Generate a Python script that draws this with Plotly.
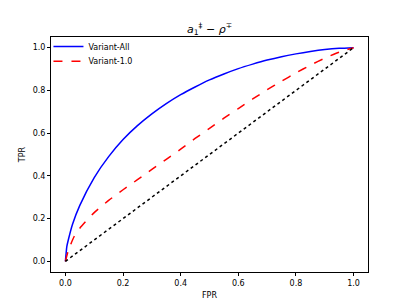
import plotly.graph_objects as go

fpr_all = [0, 0.005, 0.01, 0.025, 0.05, 0.10, 0.15, 0.20, 0.25, 0.30, 0.35, 0.40, 0.45,
           0.50, 0.55, 0.60, 0.65, 0.70, 0.75, 0.80, 0.85, 0.90, 0.95, 1.0]
tpr_all = [0, 0.07, 0.10, 0.175, 0.262, 0.392, 0.49, 0.57, 0.635, 0.69, 0.738, 0.78, 0.816,
           0.849, 0.877, 0.902, 0.923, 0.942, 0.958, 0.971, 0.982, 0.991, 0.997, 1.0]

fpr_10 = [0, 0.01, 0.03, 0.05, 0.10, 0.15, 0.20, 0.25, 0.30, 0.35, 0.40, 0.45, 0.50,
          0.55, 0.60, 0.65, 0.70, 0.75, 0.80, 0.85, 0.90, 0.95, 1.0]
tpr_10 = [0, 0.05, 0.115, 0.155, 0.228, 0.285, 0.335, 0.382, 0.43, 0.477, 0.525, 0.575, 0.622,
          0.67, 0.715, 0.76, 0.803, 0.843, 0.882, 0.918, 0.951, 0.979, 1.0]

diag = [0, 1]
ticks = [0.0, 0.2, 0.4, 0.6, 0.8, 1.0]
tick_text = ["0.0", "0.2", "0.4", "0.6", "0.8", "1.0"]

fig = go.Figure()
fig.add_trace(go.Scatter(x=fpr_all, y=tpr_all, mode="lines", name="Variant-All", legend="legend",
                         line=dict(color="blue", width=1.5, shape="spline", smoothing=0.6)))
fig.add_trace(go.Scatter(x=fpr_10, y=tpr_10, mode="lines", name="Variant-1.0", legend="legend2",
                         line=dict(color="red", width=1.5, dash="dash", shape="spline", smoothing=0.6)))
fig.add_trace(go.Scatter(x=diag, y=diag, mode="lines", showlegend=False,
                         line=dict(color="black", width=1.5, dash="dot")))

axis_common = dict(range=[-0.05, 1.05], showgrid=False, zeroline=False, automargin=False,
                   showline=True, linecolor="black", linewidth=1, mirror=True,
                   ticks="outside", ticklen=3, tickwidth=1, tickcolor="black",
                   tickvals=ticks, ticktext=tick_text,
                   tickfont=dict(size=8, color="black"))

legend_common = dict(xanchor="left", yanchor="top", bgcolor="rgba(0,0,0,0)",
                     borderwidth=0, font=dict(size=8), itemwidth=30)

fig.update_layout(
    width=409, height=306,
    margin=dict(l=51, r=41, t=37, b=34),
    paper_bgcolor="white", plot_bgcolor="white",
    font=dict(family="DejaVu Sans", color="black"),
    title=dict(text="<i>a</i><sub>1</sub><sup>‡</sup> − <i>ρ</i><sup>∓</sup>",
               x=0.5, xref="paper", xanchor="center", y=0.905, yref="container",
               yanchor="middle", font=dict(size=11)),
    xaxis=dict(title=dict(text="FPR", font=dict(size=8), standoff=5), **axis_common),
    yaxis=dict(title=dict(text="TPR", font=dict(size=8), standoff=5), **axis_common),
    legend=dict(x=-0.008, y=1.021, **legend_common),
    legend2=dict(x=-0.008, y=0.958, **legend_common),
    showlegend=True,
)

fig.write_html("out.html", config={"displayModeBar": False},
               post_script="document.body.style.margin='0';document.body.style.padding='0';")
